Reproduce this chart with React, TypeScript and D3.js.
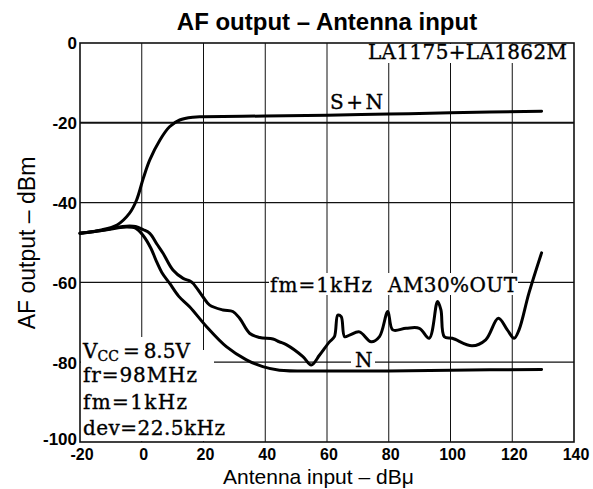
import React from "react";
import * as d3 from "d3";

// ---- data ----
const xTicks = [-20, 0, 20, 40, 60, 80, 100, 120, 140];
const yTicks = [0, -20, -40, -60, -80, -100];
const xGrid = [0, 20, 40, 60, 80, 100, 120];
const yGrid = [-20, -40, -60, -80];

// S+N curve
const snX = [-20, -13.5, -8, -4, -1.7, 0.5, 2.6, 5.9, 9, 12.3, 16.6, 20, 40, 60, 80, 100, 129.5];
const snY = [-47.7, -46.9, -45.6, -42.7, -39.4, -33.9, -29.3, -24.3, -21, -19.3, -18.6, -18.5, -18.3, -18.1, -17.8, -17.5, -17.1];

// N curve
const nX = [-20, -13, -8, -5, -2, 0.5, 3, 4.8, 6.5, 9, 12, 15.5, 21, 27.4, 33.9, 39.2, 44.6, 60, 80, 100, 129.5];
const nY = [-47.7, -47, -46.4, -46.1, -46.4, -48.3, -51.5, -54.8, -57.5, -60.2, -63.5, -66.1, -71.1, -76.1, -79.4, -81.1, -82, -82.2, -82.2, -82, -81.8];

// fm=1kHz AM30% OUT curve
const amX = [-20, -13, -8, -5, -2, 0.5, 2.6, 5, 6.9, 10.1, 13.4, 15.5, 16.6, 19.8, 22, 26.3, 29.5, 31.7, 35, 38.2, 42.5, 44.6, 46.8, 52.2, 54.9, 57.6, 60.8, 62.4, 63.5, 64.6, 65.7, 67.3, 70.5, 74.3, 77, 79.7, 81.3, 85.6, 89.9, 93.1, 95.8, 96.9, 98, 100.6, 107, 111.4, 115.5, 118.4, 120.6, 122.2, 125.4, 129.5];
const amY = [-47.7, -47, -46.2, -45.9, -46, -46.8, -47.7, -50.5, -52.7, -56.9, -59, -59.6, -60.2, -63.6, -65.7, -66.9, -67.3, -69, -72.8, -73.8, -74.2, -74.9, -75.6, -78.6, -80.7, -78.2, -74.9, -73.6, -68.2, -68.6, -73.6, -73.2, -72.4, -74.9, -73.6, -67.3, -71.9, -71.5, -71.5, -74, -64.8, -66.9, -73.6, -74, -75.9, -74.4, -69, -71.9, -74, -71.9, -62.7, -52.6];

const title = "AF output \u2013 Antenna input";
const yLabel = "AF output \u2013 dBm";
const xLabel = "Antenna input \u2013 dB\u03bc";

const W = 593;
const H = 489;
const serif = "'DejaVu Serif', 'Liberation Serif', serif";
const sans = "'Liberation Sans', Arial, sans-serif";

export default function App() {
  const x = d3.scaleLinear().domain([-20, 140]).range([80, 574]);
  const y = d3.scaleLinear().domain([-100, 0]).range([442, 43]);

  const line = d3
    .line<[number, number]>()
    .x((d) => x(d[0]))
    .y((d) => y(d[1]))
    .curve(d3.curveCatmullRom.alpha(0.5));

  const sn = line(snX.map((v, i) => [v, snY[i]] as [number, number])) || "";
  const n = line(nX.map((v, i) => [v, nY[i]] as [number, number])) || "";
  const am = line(amX.map((v, i) => [v, amY[i]] as [number, number])) || "";

  const serifProps = {
    fontFamily: serif,
    fontSize: 20,
    fill: "#000",
    stroke: "#000",
    strokeWidth: 0.35,
  };

  return (
    <svg
      width={W}
      height={H}
      style={{ position: "absolute", left: 0, top: 0, background: "#fff" }}
    >
      <rect x={0} y={0} width={W} height={H} fill="#fff" />
      {/* grid */}
      {xGrid.map((v) => (
        <line key={"gx" + v} x1={x(v)} x2={x(v)} y1={y(0)} y2={y(-100)} stroke="#111" strokeWidth={1} />
      ))}
      {yGrid.map((v) => (
        <line
          key={"gy" + v}
          x1={x(-20)}
          x2={x(140)}
          y1={y(v)}
          y2={y(v)}
          stroke="#111"
          strokeWidth={v === -20 ? 2 : 1.2}
        />
      ))}
      {/* white backgrounds that interrupt the grid behind annotations */}
      <rect x={366} y={44} width={207} height={19} fill="#fff" />
      <rect x={269} y={273} width={249} height={22} fill="#fff" />
      <rect x={351} y={351} width={24} height={16} fill="#fff" />
      <rect x={81} y={337} width={122} height={104} fill="#fff" />
      <rect x={81} y={350} width={133} height={91} fill="#fff" />

      {/* frame */}
      <rect x={x(-20)} y={y(0)} width={x(140) - x(-20)} height={y(-100) - y(0)} fill="none" stroke="#111" strokeWidth={1.6} />

      {/* curves */}
      <path d={sn} fill="none" stroke="#000" strokeWidth={3} strokeLinejoin="round" strokeLinecap="round" />
      <path d={n} fill="none" stroke="#000" strokeWidth={3} strokeLinejoin="round" strokeLinecap="round" />
      <path d={am} fill="none" stroke="#000" strokeWidth={3} strokeLinejoin="round" strokeLinecap="round" />

      {/* tick labels */}
      {xTicks.map((v) => (
        <text key={"tx" + v} x={x(v) + 2} y={460} textAnchor="middle" fontFamily={sans} fontWeight="bold" fontSize={16} fill="#000">
          {v}
        </text>
      ))}
      {yTicks.map((v) => (
        <text key={"ty" + v} x={77} y={y(v) + (v === -100 ? -1 : 2)} textAnchor="end" dominantBaseline="middle" fontFamily={sans} fontWeight="bold" fontSize={17} fill="#000">
          {v}
        </text>
      ))}

      {/* title and axis labels */}
      <text x={327} y={30} textAnchor="middle" fontFamily={sans} fontWeight="bold" fontSize={24} fill="#000">
        {title}
      </text>
      <text transform="translate(35,243) rotate(-90)" textAnchor="middle" fontFamily={sans} fontSize={23} fill="#000">
        {yLabel}
      </text>
      <text x={223} y={484} fontFamily={sans} fontSize={21} fill="#000">
        {xLabel}
      </text>

      {/* annotations */}
      <text x={368} y={59} {...serifProps} textLength={199} lengthAdjust="spacing">
        LA1175+LA1862M
      </text>
      <text x={330} y={109} {...serifProps} textLength={53} lengthAdjust="spacing">
        S+N
      </text>
      <text x={270} y={292} {...serifProps} textLength={102} lengthAdjust="spacing">
        fm=1kHz
      </text>
      <text x={388} y={292} {...serifProps} textLength={129} lengthAdjust="spacing">
        AM30%OUT
      </text>
      <text x={355} y={367} {...serifProps}>
        N
      </text>
      <text x={83} y={358} {...serifProps}>
        V
        <tspan fontSize={14} dy={3}>CC</tspan>
        <tspan dy={-3}>{"\u2009=\u20098.5V"}</tspan>
      </text>
      <text x={83} y={382} {...serifProps} textLength={114} lengthAdjust="spacing">
        fr=98MHz
      </text>
      <text x={83} y={409} {...serifProps} textLength={104} lengthAdjust="spacing">
        fm=1kHz
      </text>
      <text x={83} y={435} {...serifProps} textLength={142} lengthAdjust="spacing">
        dev=22.5kHz
      </text>
    </svg>
  );
}
